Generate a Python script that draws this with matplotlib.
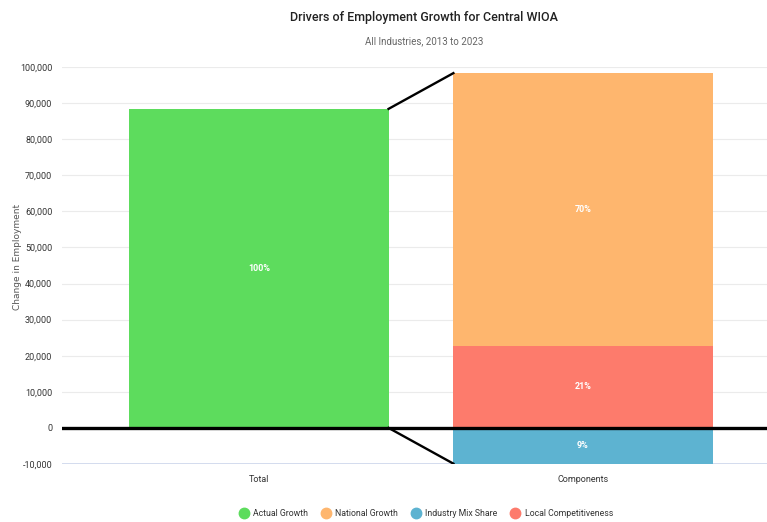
import numpy as np
import matplotlib.pyplot as plt
from matplotlib.lines import Line2D

plt.rcParams['font.family'] = ['Roboto', 'DejaVu Sans']

# shift-share components of employment change, 2013-2023
categories = ['Total', 'Components']
series = ['Actual Growth', 'National Growth', 'Industry Mix Share', 'Local Competitiveness']
colors = ['#5DDC5D', '#FEB66E', '#5DB3D1', '#FD7B6C']
national = 75600
industry_mix = -9900
local = 22700
actual = national + industry_mix + local

abs_sum = abs(national) + abs(industry_mix) + abs(local)
pct = lambda v: f'{round(abs(v) / abs_sum * 100)}%'

fig = plt.figure(figsize=(7.67, 5.22), dpi=100)
ax = fig.add_axes([62 / 767, 1 - 464 / 522, 1 - 62 / 767, (464 - 67) / 522])

w = 0.8
x = np.arange(len(categories))
lab = dict(color='white', ha='center', va='center', fontsize=6.5,
           fontweight='bold', zorder=4)

# total bar
ax.bar(x[0], actual, w, color=colors[0], zorder=2)
ax.text(x[0], actual / 2, '100%', **lab)

# components: local + national stacked above zero, industry mix below
ax.bar(x[1], local, w, color=colors[3], zorder=2)
ax.bar(x[1], national, w, bottom=local, color=colors[1], zorder=2)
ax.bar(x[1], industry_mix, w, color=colors[2], zorder=2)
ax.text(x[1], local / 2, pct(local), **lab)
ax.text(x[1], local + national / 2, pct(national), **lab)
ax.text(x[1], industry_mix / 2, pct(industry_mix), **lab)

# connector lines between the two bars
x_right = x[0] + w / 2
x_left = x[1] - w / 2
ax.plot([x_right, x_left], [actual, local + national], color='black', lw=1.7, zorder=3)
ax.plot([x_right, x_left], [0, industry_mix], color='black', lw=1.7, zorder=3)

ax.axhline(0, color='black', lw=2.4, zorder=3)

ax.set_ylim(-10000, 100000)
ax.set_xlim(-0.608, 1.568)
ax.set_yticks(np.arange(-10000, 100001, 10000))
ax.set_yticklabels([f'{v:,}' for v in range(-10000, 100001, 10000)])
ax.set_xticks(x)
ax.set_xticklabels(categories)
ax.tick_params(axis='both', length=0, labelsize=6.5, colors='#333333')
ax.tick_params(axis='y', pad=7)
ax.tick_params(axis='x', pad=8)
ax.yaxis.grid(True, color='#ebebeb', lw=0.8, zorder=0)
ax.set_axisbelow(True)
for s in ax.spines.values():
    s.set_visible(False)
ax.axhline(-10000, color='#ccd6eb', lw=1.2, zorder=1)

fig.text(18 / 767, 1 - 257 / 522, 'Change in Employment', rotation=90,
         ha='center', va='center', fontsize=6.5, color='#555555',
         family=['DejaVu Sans'])

fig.text(424 / 767, 1 - 17 / 522, 'Drivers of Employment Growth for Central WIOA',
         ha='center', va='center', fontsize=9, color='#222222', fontweight='medium')
fig.text(424 / 767, 1 - 41 / 522, 'All Industries, 2013 to 2023',
         ha='center', va='center', fontsize=7, color='#666666')

handles = [Line2D([], [], marker='o', ls='', markersize=7.5, markerfacecolor=c,
                  markeredgecolor=c) for c in colors]
fig.legend(handles, series, loc='center', bbox_to_anchor=(424 / 767, 1 - 514 / 522),
           ncol=4, frameon=False, fontsize=6.3, handletextpad=0.1,
           columnspacing=1.0, borderaxespad=0, labelcolor='#333333')

fig.savefig('out.png', dpi=100)
